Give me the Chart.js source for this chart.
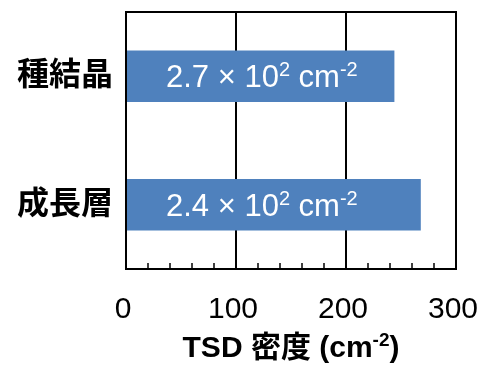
<!DOCTYPE html>
<html>
<head>
<meta charset="utf-8">
<script src="https://cdn.jsdelivr.net/npm/chart.js@4"></script>
<style>
  html, body { margin: 0; padding: 0; background: #fff; }
  #wrap { width: 489px; height: 367px; }
</style>
</head>
<body>
<div id="wrap"><canvas id="tsdChart" width="489" height="367"></canvas></div>
<script>
// Data
const categories = ['種結晶', '成長層'];
const densities = [244, 268];
const labelMantissas = ['2.7', '2.4'];
const xTicks = [0, 100, 200, 300];

const FONT = '"Liberation Sans", Arial, "Noto Sans CJK JP", sans-serif';

// helper to draw text pieces with superscripts
function drawRich(ctx, parts, x, y, align, bold, size, supSize) {
  const w = bold ? 'bold ' : '';
  let total = 0;
  parts.forEach(p => {
    ctx.font = w + (p.sup ? supSize : size) + 'px ' + FONT;
    p.w = ctx.measureText(p.t).width;
    total += p.w;
  });
  let cx = align === 'center' ? x - total / 2 : x;
  ctx.textAlign = 'left';
  ctx.textBaseline = 'alphabetic';
  parts.forEach(p => {
    ctx.font = w + (p.sup ? supSize : size) + 'px ' + FONT;
    ctx.fillText(p.t, cx, p.sup ? y - 11 : y);
    cx += p.w;
  });
}

const extras = {
  id: 'extras',
  afterDraw(chart) {
    const ctx = chart.ctx;
    const a = chart.chartArea;
    const xs = chart.scales.x;
    const ys = chart.scales.y;
    ctx.save();

    // minor ticks on bottom axis
    ctx.strokeStyle = '#000';
    ctx.lineWidth = 1.5;
    for (let v = 20; v < 300; v += 20) {
      if (v % 100 === 0) continue;
      const px = xs.getPixelForValue(v);
      ctx.beginPath();
      ctx.moveTo(px, a.bottom);
      ctx.lineTo(px, a.bottom - 6);
      ctx.stroke();
    }

    // box
    ctx.lineWidth = 2;
    ctx.strokeRect(a.left, a.top, a.right - a.left, a.bottom - a.top);

    // bar labels
    ctx.fillStyle = '#fff';
    const cx = xs.getPixelForValue(123.5);
    categories.forEach((c, i) => {
      const cy = ys.getPixelForValue(i);
      drawRich(ctx, [
        { t: labelMantissas[i] + ' × 10' },
        { t: '2', sup: true },
        { t: ' cm' },
        { t: '-2', sup: true }
      ], cx, cy + 11, 'center', false, 31, 20);
    });

    // axis title
    ctx.fillStyle = '#000';
    drawRich(ctx, [
      { t: 'TSD 密度 (cm' },
      { t: '-2', sup: true },
      { t: ')' }
    ], (a.left + a.right) / 2, 357, 'center', true, 30, 19);

    ctx.restore();
  }
};

new Chart(document.getElementById('tsdChart'), {
  type: 'bar',
  data: {
    labels: categories,
    datasets: [{
      data: densities,
      backgroundColor: '#4f81bd',
      barPercentage: 0.4,
      categoryPercentage: 1
    }]
  },
  options: {
    indexAxis: 'y',
    responsive: false,
    animation: false,
    layout: { padding: { top: 12, right: 33, left: 0, bottom: 0 } },
    plugins: { legend: { display: false }, tooltip: { enabled: false } },
    scales: {
      x: {
        min: 0,
        max: 300,
        afterBuildTicks: s => { s.ticks = xTicks.map(v => ({ value: v })); },
        afterFit: s => { s.height = 98; s.paddingLeft = 0; s.paddingRight = 0; },
        ticks: {
          color: '#000',
          font: { family: FONT, size: 30 },
          padding: 23,
          labelOffset: -3,
          maxRotation: 0
        },
        grid: { color: '#000', lineWidth: 2, drawTicks: false },
        border: { color: '#000', width: 2 }
      },
      y: {
        afterFit: s => { s.width = 126; s.paddingTop = 0; s.paddingBottom = 0; },
        ticks: {
          color: '#000',
          font: { family: FONT, size: 32, weight: 'bold' },
          padding: 13
        },
        grid: { display: false, drawTicks: false },
        border: { color: '#000', width: 2 }
      }
    }
  },
  plugins: [extras]
});
</script>
</body>
</html>
